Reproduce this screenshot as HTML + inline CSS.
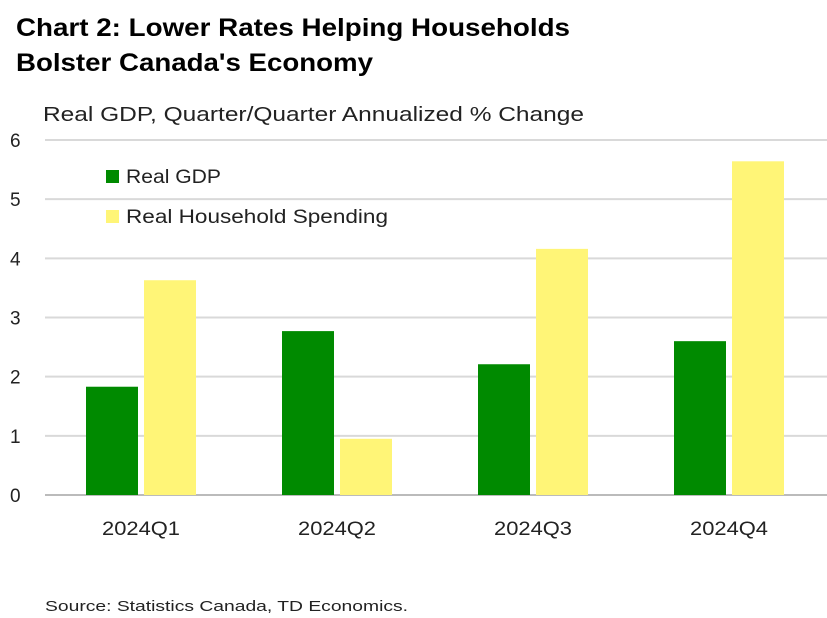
<!DOCTYPE html>
<html><head><meta charset="utf-8"><style>
body{margin:0;background:#fff;font-family:"Liberation Sans",sans-serif;}
svg{display:block}
</style></head><body>
<svg id="chart" width="827" height="618">
<text x="16" y="36" font-size="25" font-weight="bold" fill="#000" textLength="554" lengthAdjust="spacingAndGlyphs">Chart 2: Lower Rates Helping Households</text>
<text x="16" y="71" font-size="25" font-weight="bold" fill="#000" textLength="357" lengthAdjust="spacingAndGlyphs">Bolster Canada's Economy</text>
<text x="43" y="121" font-size="20" fill="#222" textLength="541" lengthAdjust="spacingAndGlyphs">Real GDP, Quarter/Quarter Annualized % Change</text>
<g id="grid"></g><g id="bars"></g><g id="xlabels"></g>
<rect x="106" y="170" width="13" height="13" fill="#008a00"/>
<text x="126" y="183" font-size="19" fill="#222" textLength="95" lengthAdjust="spacingAndGlyphs">Real GDP</text>
<rect x="106" y="210" width="13" height="13" fill="#fff577"/>
<text x="126" y="223" font-size="19" fill="#222" textLength="262" lengthAdjust="spacingAndGlyphs">Real Household Spending</text>
<text x="45" y="611" font-size="15" fill="#222" textLength="363" lengthAdjust="spacingAndGlyphs">Source: Statistics Canada, TD Economics.</text>
</svg>
<script>
const categories=["2024Q1","2024Q2","2024Q3","2024Q4"];
const gdpValues=[1.83,2.77,2.21,2.6];
const householdValues=[3.63,0.95,4.16,5.64];
const yTicks=[0,1,2,3,4,5,6];
const NS="http://www.w3.org/2000/svg";
const x0=43,x1=827,yBase=495,yTop=140,yMax=6;
const y=v=>yBase-(yBase-yTop)*v/yMax;
const band=(x1-x0)/categories.length;
const cx=i=>x0+band*(i+0.5);
function mk(tag,attrs,parent){const e=document.createElementNS(NS,tag);for(const k in attrs)e.setAttribute(k,attrs[k]);document.getElementById(parent).appendChild(e);return e;}
yTicks.forEach(t=>{
  const l=mk("line",{x1:45,x2:x1,y1:y(t),y2:y(t),stroke:t===0?"#bbb":"#d9d9d9","stroke-width":2},"grid");
  
  
  const tx=mk("text",{x:10,y:y(t)+7,"font-size":19,fill:"#222"},"grid");
  tx.textContent=t;
  
  
});
categories.forEach((c,i)=>{
  const g=mk("rect",{x:cx(i)-55,y:y(gdpValues[i]),width:52,height:yBase-y(gdpValues[i]),fill:"#008a00"},"bars");
  
  
  const h=mk("rect",{x:cx(i)+3,y:y(householdValues[i]),width:52,height:yBase-y(householdValues[i]),fill:"#fff577"},"bars");
  
  
  const t=mk("text",{x:cx(i),y:535,"font-size":19,fill:"#222","text-anchor":"middle",textLength:78,lengthAdjust:"spacingAndGlyphs"},"xlabels");
  t.textContent=c;
  
  
});
</script>
</body></html>
